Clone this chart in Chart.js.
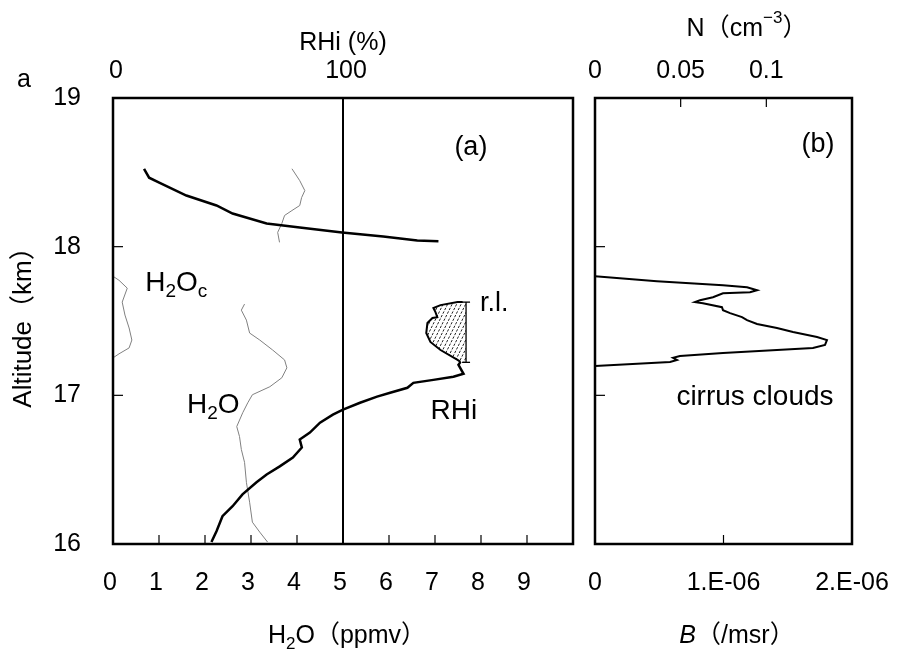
<!DOCTYPE html>
<html>
<head>
<meta charset="utf-8">
<script src="https://cdn.jsdelivr.net/npm/chart.js@4.4.1/dist/chart.umd.min.js"></script>
<style>
  body { margin: 0; background: #fff; }
  #wrap { position: relative; width: 898px; height: 659px; }
  canvas { position: absolute; top: 0; }
</style>
</head>
<body>
<div id="wrap">
  <canvas id="left" width="585" height="659" style="left:0"></canvas>
  <canvas id="right" width="313" height="659" style="left:585px"></canvas>
</div>
<script>
// tick values and labels
const ALT_TICKS = [16, 17, 18, 19];
const H2O_TICKS = [0, 1, 2, 3, 4, 5, 6, 7, 8, 9];
const RHI_TICKS = [0, 100];
const B_TICKS = [0, 1e-6, 2e-6];
const B_TICK_LABELS = ['0', '1.E-06', '2.E-06'];
const N_TICKS = [0, 0.05, 0.1];
const N_TICK_LABELS = ['0', '0.05', '0.1'];

// RHi profile (%) above the cloud
const RHI_UP_ALT = [18.524, 18.464, 18.431, 18.344, 18.277, 18.223, 18.156, 18.129, 18.096, 18.069, 18.042, 18.036];
const RHI_UP_VAL = [13.5, 15.7, 20.1, 31.9, 45.0, 52.0, 66.8, 81.2, 99.6, 117.5, 132.3, 141.5];

// RHi profile (%) below the cloud
const RHI_LOW_ALT = [16.013, 16.086, 16.187, 16.254, 16.334, 16.415, 16.468, 16.522, 16.582, 16.649, 16.703, 16.749,
  16.816, 16.870, 16.904, 16.950, 16.991, 17.017, 17.051, 17.084, 17.104, 17.125, 17.145, 17.205, 17.225];
const RHI_LOW_VAL = [42.8, 45.0, 47.6, 52.0, 56.3, 62.4, 66.8, 72.5, 78.2, 82.1, 81.2, 85.6,
  90.0, 95.6, 100.0, 107.4, 114.8, 120.5, 128.0, 130.6, 139.3, 148.0, 152.4, 150.2, 151.1];

// RHi inside the cloud layer (left edge of the hatched area)
const RHI_CLOUD_ALT = [17.225, 17.238, 17.305, 17.359, 17.419, 17.486, 17.520, 17.526, 17.560, 17.587, 17.607, 17.627, 17.627];
const RHI_CLOUD_VAL = [151.1, 149.8, 142.4, 138.0, 136.2, 136.7, 138.9, 141.0, 140.2, 139.3, 142.4, 149.8, 152.0];

// r.l. bar
const RL_RHI = 153.5;
const RL_ALT = [17.627, 17.222];

// saturation line
const SAT_RHI = 100;
const SAT_ALT = [16, 19];

// water vapour (ppmv)
const H2O_UP_ALT = [18.524, 18.444, 18.377, 18.330, 18.277, 18.243, 18.210, 18.156, 18.096, 18.029];
const H2O_UP_VAL = [3.89, 4.06, 4.17, 4.10, 4.06, 3.89, 3.73, 3.67, 3.58, 3.62];
const H2O_LOW_ALT = [17.614, 17.573, 17.506, 17.419, 17.372, 17.305, 17.238, 17.185, 17.118, 17.058, 17.004, 16.950,
  16.883, 16.790, 16.723, 16.636, 16.549, 16.415, 16.281, 16.147, 16.080, 16.013];
const H2O_LOW_VAL = [2.86, 2.79, 2.90, 2.97, 3.19, 3.47, 3.73, 3.78, 3.67, 3.41, 3.03, 2.93,
  2.82, 2.69, 2.75, 2.79, 2.86, 2.90, 2.97, 3.03, 3.19, 3.36];

// condensed water (ppmv)
const H2OC_ALT = [17.801, 17.774, 17.721, 17.627, 17.540, 17.453, 17.372, 17.319, 17.279, 17.252];
const H2OC_VAL = [0.0, 0.13, 0.31, 0.20, 0.26, 0.35, 0.41, 0.35, 0.13, 0.0];

// backscatter (/msr)
const B_ALT = [17.801, 17.768, 17.741, 17.727, 17.707, 17.694, 17.687, 17.660, 17.640, 17.627, 17.620, 17.593,
  17.573, 17.553, 17.526, 17.506, 17.480, 17.453, 17.426, 17.392, 17.372, 17.339, 17.319, 17.285, 17.265,
  17.252, 17.238, 17.225, 17.198];
const B_VAL = [0, 0.482e-6, 0.996e-6, 1.183e-6, 1.261e-6, 1.206e-6, 0.996e-6, 0.918e-6, 0.817e-6, 0.778e-6, 0.840e-6, 0.988e-6,
  0.996e-6, 1.051e-6, 1.144e-6, 1.183e-6, 1.261e-6, 1.416e-6, 1.541e-6, 1.728e-6, 1.805e-6, 1.790e-6, 1.696e-6, 0.996e-6, 0.661e-6,
  0.607e-6, 0.638e-6, 0.584e-6, 0];

// latin text, with the CJK face picking up the full-width brackets
const FONT = '"Liberation Sans", "Noto Sans CJK JP", Arial, sans-serif';

function pts(xs, ys) {
  return xs.map((x, i) => ({ x: x, y: ys[i] }));
}

function line(data, xAxisID, color, width, extra) {
  return Object.assign({
    data: data, xAxisID: xAxisID, yAxisID: 'y', showLine: true,
    borderColor: color, borderWidth: width, pointRadius: 0, tension: 0, fill: false
  }, extra || {});
}

// text with sub/superscripts, runs = [[text, 'sub'|'sup'|'', italic]]
function drawRich(ctx, runs, x, y, size, align) {
  const fontFor = (r) => (r[2] ? 'italic ' : '') + (r[1] ? Math.round(size * 0.68) : size) + 'px ' + FONT;
  let total = 0;
  runs.forEach(r => { ctx.font = fontFor(r); total += ctx.measureText(r[0]).width; });
  let cx = align === 'center' ? x - total / 2 : x;
  ctx.save();
  ctx.fillStyle = '#000';
  ctx.textAlign = 'left';
  ctx.textBaseline = 'middle';
  runs.forEach(r => {
    ctx.font = fontFor(r);
    let dy = 0;
    if (r[1] === 'sub') dy = size * 0.32;
    if (r[1] === 'sup') dy = -size * 0.42;
    ctx.fillText(r[0], cx, y + dy);
    cx += ctx.measureText(r[0]).width;
  });
  ctx.restore();
}

// frame and inward tick marks
function framePlugin(tickSets) {
  return {
    id: 'frame',
    afterDraw(chart) {
      const ctx = chart.ctx, a = chart.chartArea;
      ctx.save();
      ctx.strokeStyle = '#000';
      ctx.lineWidth = 1.2;
      tickSets.forEach(t => {
        const s = chart.scales[t.scale];
        t.values.forEach(v => {
          const p = s.getPixelForValue(v);
          ctx.beginPath();
          if (t.side === 'bottom') { ctx.moveTo(p, a.bottom); ctx.lineTo(p, a.bottom - 9); }
          if (t.side === 'top') { ctx.moveTo(p, a.top); ctx.lineTo(p, a.top + 9); }
          if (t.side === 'left') { ctx.moveTo(a.left, p); ctx.lineTo(a.left + 10, p); }
          ctx.stroke();
        });
      });
      ctx.lineWidth = 2.5;
      ctx.strokeRect(a.left, a.top, a.right - a.left, a.bottom - a.top);
      ctx.restore();
    }
  };
}

function labelPlugin(labels) {
  return {
    id: 'labels',
    afterDraw(chart) {
      labels.forEach(l => {
        let x = l.x, y = l.y;
        if (l.xAxis) {
          x = chart.scales[l.xAxis].getPixelForValue(l.x);
          y = chart.scales.y.getPixelForValue(l.y);
        }
        drawRich(chart.ctx, l.runs, x, y, l.size, l.align);
      });
    }
  };
}

// diagonal hatching between the in-cloud RHi edge and the r.l. bar
const hatchPlugin = {
  id: 'hatch',
  beforeDatasetsDraw(chart) {
    const meta = chart.getDatasetMeta(2);
    const xr = chart.scales.xr, y = chart.scales.y;
    const rx = xr.getPixelForValue(RL_RHI);
    const ctx = chart.ctx;
    const p = meta.data;
    ctx.save();
    ctx.beginPath();
    ctx.moveTo(p[0].x, p[0].y);
    p.forEach(q => ctx.lineTo(q.x, q.y));
    ctx.lineTo(rx, y.getPixelForValue(RL_ALT[0]));
    ctx.lineTo(rx, y.getPixelForValue(RL_ALT[1]));
    ctx.closePath();
    ctx.clip();
    ctx.strokeStyle = '#222';
    ctx.lineWidth = 1;
    ctx.setLineDash([2.5, 1.5]);
    const top = y.getPixelForValue(RL_ALT[0]) - 5, bot = y.getPixelForValue(RL_ALT[1]) + 5;
    for (let k = -80; k < 80; k += 4.5) {
      ctx.beginPath();
      ctx.moveTo(rx - 60 + k, bot);
      ctx.lineTo(rx - 60 + k + (bot - top) * 0.5, top);
      ctx.stroke();
    }
    ctx.restore();
  }
};

function fixedTicks(values) {
  return (scale) => { scale.ticks = values.map(v => ({ value: v })); };
}

// fixed axis band, no extra room for overhanging labels
function band(size) {
  return (s) => {
    if (s.isHorizontal()) s.height = size; else s.width = size;
    s.paddingLeft = 0; s.paddingRight = 0; s.paddingTop = 0; s.paddingBottom = 0;
  };
}

const tickFont = { family: FONT, size: 25 };

new Chart(document.getElementById('left'), {
  type: 'scatter',
  data: {
    datasets: [
      line(pts(RHI_UP_VAL, RHI_UP_ALT), 'xr', '#000', 2.5),
      line(pts(RHI_LOW_VAL, RHI_LOW_ALT), 'xr', '#000', 2.5),
      line(pts(RHI_CLOUD_VAL, RHI_CLOUD_ALT), 'xr', '#000', 2),
      line(pts([RL_RHI, RL_RHI], RL_ALT), 'xr', '#000', 1.3, { pointStyle: 'line', pointRadius: 4, pointBorderWidth: 1.3, pointBorderColor: '#000' }),
      line(pts([SAT_RHI, SAT_RHI], SAT_ALT), 'xr', '#000', 2),
      line(pts(H2O_UP_VAL, H2O_UP_ALT), 'x', '#808080', 1),
      line(pts(H2O_LOW_VAL, H2O_LOW_ALT), 'x', '#808080', 1),
      line(pts(H2OC_VAL, H2OC_ALT), 'x', '#808080', 1)
    ]
  },
  options: {
    responsive: false,
    animation: false,
    devicePixelRatio: 1,
    layout: { padding: { left: 0, top: 0, right: 12, bottom: 0 } },
    plugins: { legend: { display: false }, tooltip: { enabled: false } },
    scales: {
      y: {
        position: 'left', min: 16, max: 19,
        afterBuildTicks: fixedTicks(ALT_TICKS),
        afterFit: band(113),
        grid: { display: false }, border: { display: false },
        ticks: { font: tickFont, color: '#000', padding: 24 },
        title: { display: true, text: 'Altitude（km）', font: { family: FONT, size: 26 }, color: '#000', padding: { top: 8, bottom: 0 } }
      },
      x: {
        position: 'bottom', min: 0, max: 10,
        afterBuildTicks: fixedTicks(H2O_TICKS),
        afterFit: band(115),
        grid: { display: false }, border: { display: false },
        ticks: { font: tickFont, color: '#000', padding: 16, labelOffset: -3 }
      },
      xr: {
        position: 'top', min: 0, max: 200,
        afterBuildTicks: fixedTicks(RHI_TICKS),
        afterFit: band(98),
        grid: { display: false }, border: { display: false },
        ticks: { font: tickFont, color: '#000', padding: 4, labelOffset: 3 },
        title: { display: true, text: 'RHi (%)', font: { family: FONT, size: 25 }, color: '#000', padding: { top: 28, bottom: 0 } }
      }
    }
  },
  plugins: [
    hatchPlugin,
    framePlugin([
      { scale: 'x', side: 'bottom', values: H2O_TICKS.slice(1) },
      { scale: 'y', side: 'left', values: [17, 18] },
      { scale: 'xr', side: 'top', values: [100] }
    ]),
    labelPlugin([
      { runs: [['a', '', false]], x: 24, y: 80, size: 25, align: 'center' },
      { runs: [['H', '', false], ['2', 'sub', false], ['O（ppmv）', '', false]], x: 347, y: 636, size: 25, align: 'center' },
      { runs: [['(a)', '', false]], xAxis: 'x', x: 7.78, y: 18.664, size: 27, align: 'center' },
      { runs: [['H', '', false], ['2', 'sub', false], ['O', '', false], ['c', 'sub', false]], xAxis: 'x', x: 0.70, y: 17.756, size: 28, align: 'left' },
      { runs: [['H', '', false], ['2', 'sub', false], ['O', '', false]], xAxis: 'x', x: 1.61, y: 16.935, size: 28, align: 'left' },
      { runs: [['RHi', '', false]], xAxis: 'x', x: 7.41, y: 16.895, size: 28, align: 'center' },
      { runs: [['r.l.', '', false]], xAxis: 'x', x: 7.98, y: 17.615, size: 27, align: 'left' }
    ])
  ]
});

new Chart(document.getElementById('right'), {
  type: 'scatter',
  data: {
    datasets: [
      line(pts(B_VAL, B_ALT), 'x', '#000', 2)
    ]
  },
  options: {
    responsive: false,
    animation: false,
    devicePixelRatio: 1,
    layout: { padding: { left: 10, top: 0, right: 46, bottom: 0 } },
    plugins: { legend: { display: false }, tooltip: { enabled: false } },
    scales: {
      y: { display: false, min: 16, max: 19 },
      x: {
        position: 'bottom', min: 0, max: 2e-6,
        afterBuildTicks: fixedTicks(B_TICKS),
        afterFit: band(115),
        grid: { display: false }, border: { display: false },
        ticks: { font: tickFont, color: '#000', padding: 16, callback: (v, i) => B_TICK_LABELS[i] }
      },
      xn: {
        position: 'top', min: 0, max: 0.15,
        afterBuildTicks: fixedTicks(N_TICKS),
        afterFit: band(98),
        grid: { display: false }, border: { display: false },
        ticks: { font: tickFont, color: '#000', padding: 4, callback: (v, i) => N_TICK_LABELS[i] }
      }
    }
  },
  plugins: [
    framePlugin([
      { scale: 'x', side: 'bottom', values: [1e-6] },
      { scale: 'y', side: 'left', values: [17, 18] },
      { scale: 'xn', side: 'top', values: [0.05, 0.1] }
    ]),
    labelPlugin([
      { runs: [['N（cm', '', false], ['\u22123', 'sup', false], ['）', '', false]], x: 162, y: 29, size: 25, align: 'center' },
      { runs: [['B', '', true], ['（/msr）', '', false]], x: 152, y: 636, size: 25, align: 'center' },
      { runs: [['(b)', '', false]], xAxis: 'x', x: 1.735e-6, y: 18.69, size: 27, align: 'center' },
      { runs: [['cirrus clouds', '', false]], xAxis: 'x', x: 1.245e-6, y: 16.99, size: 28, align: 'center' }
    ])
  ]
});
</script>
</body>
</html>
